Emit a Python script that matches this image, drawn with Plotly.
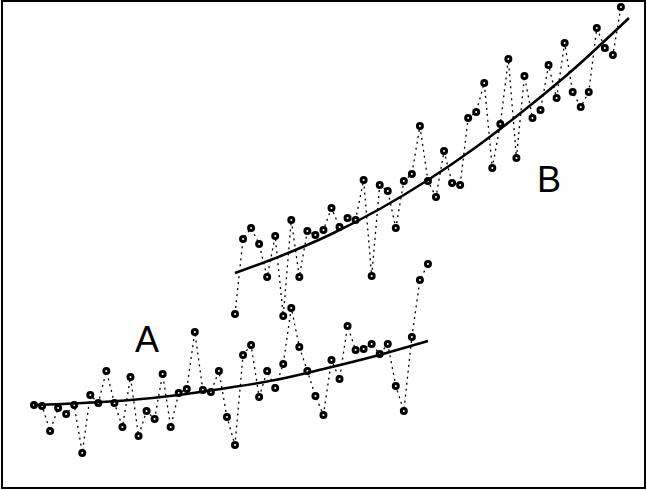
import plotly.graph_objects as go

# Series A: index 0..49
a_x = list(range(0, 50))
a_y = [75, 74, 49, 72, 66, 75, 27, 85, 77, 109, 77, 53, 103, 44, 69, 61, 106, 53, 87, 91,
       148, 90, 88, 109, 63, 35, 125, 135, 83, 109, 92, 116, 172, 133, 109, 84, 65, 120, 101, 154,
       130, 131, 136, 126, 136, 94, 69, 143, 200, 216]

# Series B: index 25..73
b_x = list(range(25, 74))
b_y = [166, 241, 252, 236, 203, 244, 164, 260, 203, 249, 245, 250, 272, 253, 262, 260, 300, 204, 295, 289,
       252, 299, 306, 354, 299, 283, 329, 297, 295, 362, 368, 397, 312, 356, 421, 322, 404, 362, 370, 415,
       382, 437, 388, 373, 388, 452, 432, 425, 473]

# Trend curves
ta_x = [0, 6, 12, 18, 24, 30, 36, 42, 49]
ta_y = [75, 77, 80, 85, 92, 100, 111, 123, 139]
tb_x = [25, 31, 37, 43, 49, 55, 61, 67, 74]
tb_y = [207, 225, 246, 271, 300, 333, 370, 410, 462]

labels = ["A", "B"]
label_x = [14.05, 64.05]
label_y = [137, 297]

fig = go.Figure()

marker = dict(symbol="circle", size=5, color="white", line=dict(color="black", width=3))
dotline = dict(color="black", width=1.3, dash="2px,4px")

fig.add_trace(go.Scatter(x=a_x, y=a_y, mode="lines+markers", line=dotline, marker=marker))
fig.add_trace(go.Scatter(x=b_x, y=b_y, mode="lines+markers", line=dotline, marker=marker))
fig.add_trace(go.Scatter(x=ta_x, y=ta_y, mode="lines", line=dict(color="black", width=2.5, shape="spline")))
fig.add_trace(go.Scatter(x=tb_x, y=tb_y, mode="lines", line=dict(color="black", width=2.5, shape="spline")))
fig.add_trace(go.Scatter(x=label_x, y=label_y, mode="text", text=labels,
                         textfont=dict(family="Liberation Sans, Arial, sans-serif", size=36, color="black")))

W, H = 647, 490
fig.update_layout(
    width=W, height=H,
    margin=dict(l=0, r=0, t=0, b=0),
    paper_bgcolor="white", plot_bgcolor="white",
    showlegend=False,
    hovermode=False,
    xaxis=dict(range=[-34 / 8.04, -34 / 8.04 + W / 8.04], visible=False, fixedrange=True),
    yaxis=dict(range=[-10, 480], visible=False, fixedrange=True),
    shapes=[dict(type="rect", xref="paper", yref="paper",
                 x0=2 / W, x1=645 / W, y0=1 - 488 / H, y1=1 - 1 / H,
                 line=dict(color="black", width=2), fillcolor="rgba(0,0,0,0)")],
)

fig.write_html("out.html", config={"displayModeBar": False},
               post_script="document.body.style.margin='0';document.body.style.overflow='hidden';")
